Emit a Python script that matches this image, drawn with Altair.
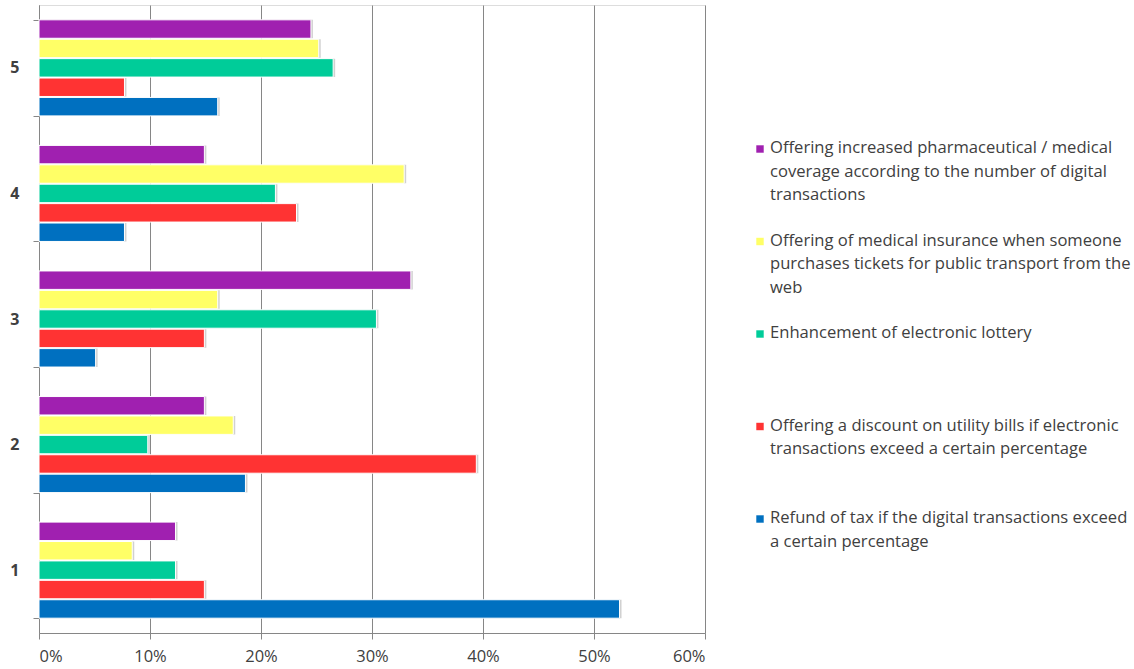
import altair as alt
import pandas as pd

categories = ["1", "2", "3", "4", "5"]
series = [
    "Offering increased pharmaceutical / medical coverage according to the number of digital transactions",
    "Offering of medical insurance when someone purchases tickets for public transport from the web",
    "Enhancement of electronic lottery",
    "Offering a discount on utility bills if electronic transactions exceed a certain percentage",
    "Refund of tax if the digital transactions exceed a certain percentage",
]
legend_lines = [
    "Offering increased pharmaceutical / medical\ncoverage according to the number of digital\ntransactions",
    "Offering of medical insurance when someone\npurchases tickets for public transport from the\nweb",
    "Enhancement of electronic lottery",
    "Offering a discount on utility bills if electronic\ntransactions exceed a certain percentage",
    "Refund of tax if the digital transactions exceed\na certain percentage",
]
colors = ["#A020B0", "#FFFF66", "#00CC99", "#FF3333", "#0070C0"]

# values per series, for categories 1..5
pharma = [0.123, 0.149, 0.335, 0.149, 0.245]
insurance = [0.084, 0.175, 0.161, 0.329, 0.252]
lottery = [0.123, 0.098, 0.304, 0.213, 0.265]
utility = [0.149, 0.394, 0.149, 0.232, 0.077]
refund = [0.523, 0.186, 0.051, 0.077, 0.161]

values = [pharma, insurance, lottery, utility, refund]
rows = []
for s, vals in zip(series, values):
    for c, v in zip(categories, vals):
        rows.append({"cat": c, "series": s, "value": v})
df = pd.DataFrame(rows)

leg = pd.DataFrame({"series": series, "label": legend_lines, "idx": list(range(5))})

W, H = 666, 628
TOP = 5
color_scale = alt.Scale(domain=series, range=colors)

y_enc = alt.Y("cat:N", sort=categories[::-1],
              scale=alt.Scale(paddingInner=0.235, paddingOuter=0.118),
              axis=alt.Axis(title=None, labelFontWeight="bold", labelFontSize=16,
                            labelColor="#404040", labelFont="Open Sans",
                            tickBand="extent", tickSize=6, tickColor="#868686",
                            domainColor="#868686", labelPadding=14, grid=False))
x_enc = alt.X("value:Q", scale=alt.Scale(domain=[0, 0.6], nice=False),
              axis=alt.Axis(title=None, format=".0%", values=[0, 0.1, 0.2, 0.3, 0.4, 0.5, 0.6],
                            labelFontSize=16.5, labelColor="#404040", labelFont="Open Sans",
                            tickSize=6, tickColor="#868686", domainColor="#868686",
                            gridColor="#868686", gridOpacity=1, labelPadding=9))
yoff = alt.YOffset("series:N", sort=series, scale=alt.Scale(paddingInner=0.05))

shadow = alt.Chart(df).mark_bar(color="#000000", opacity=0.18, xOffset=2, yOffset=2).encode(
    x=x_enc, y=y_enc, yOffset=yoff)

bars = alt.Chart(df).mark_bar(stroke="#ffffff", strokeWidth=1).encode(
    x=x_enc, y=y_enc, yOffset=yoff,
    color=alt.Color("series:N", scale=color_scale, legend=None),
)

bar_layer = alt.layer(shadow, bars)

STEP = 92.5
first = 149 - TOP
d0 = -first / STEP
d1 = d0 + H / STEP
ly = alt.Y("idx:Q", scale=alt.Scale(domain=[d0, d1], range=[0, H]), axis=None)

leg_sq = alt.Chart(leg).mark_square(size=55, opacity=1).encode(
    x=alt.value(721), y=ly,
    color=alt.Color("series:N", scale=color_scale, legend=None))
leg_tx = alt.Chart(leg).mark_text(align="left", baseline="top", fontSize=16.6, lineHeight=23.5,
                                  lineBreak="\n", font="Open Sans", color="#404040", dy=-9).encode(
    x=alt.value(731), y=ly, text="label:N")

legend_layer = alt.layer(leg_sq, leg_tx)

chart = alt.layer(bar_layer, legend_layer).resolve_scale(y="independent").properties(
    width=W, height=H,
    autosize=alt.AutoSizeParams(type="none"),
    padding={"left": 39, "top": TOP, "right": 1134 - 39 - W, "bottom": 669 - TOP - H},
).configure_view(stroke=None).configure(background="#ffffff")

chart.save("out.html", embed_options={"renderer": "svg", "actions": False})
